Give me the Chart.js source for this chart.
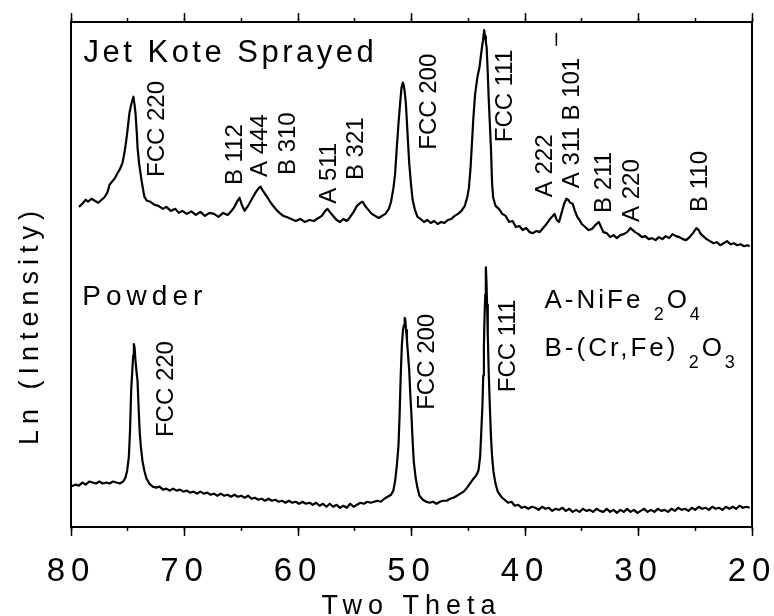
<!DOCTYPE html>
<html>
<head>
<meta charset="utf-8">
<title>XRD - Jet Kote Sprayed vs Powder</title>
<script src="https://cdn.jsdelivr.net/npm/chart.js@4.4.1/dist/chart.umd.min.js"></script>
<style>
  html, body { margin: 0; padding: 0; background: #fff; }
  #xrd { display: block; }
</style>
</head>
<body>
<canvas id="xrd" width="774" height="616"></canvas>
<script>
/**
 * Difratogramas (Two Theta x Ln(Intensity)), eixo X invertido 80 -> 20.
 * Valores: [twoTheta, lnIntensity] em unidades arbitrárias 0..10
 */
const FONT = "'Liberation Sans', Arial, Helvetica, sans-serif";

const thetaTicks = [80, 70, 60, 50, 40, 30, 20];
const thetaMinorTicks = [80, 75, 70, 65, 60, 55, 50, 45, 40, 35, 30, 25, 20];

const jetKote = [
    [79.3, 6.34], [79.0, 6.40], [78.7, 6.48], [78.5, 6.44], [78.2, 6.50], [77.9, 6.46], [77.6, 6.42],
    [77.3, 6.48], [77.05, 6.53], [76.8, 6.62], [76.6, 6.78], [76.3, 6.86], [76.1, 6.92], [75.9, 7.01],
    [75.7, 7.08], [75.46, 7.21], [75.3, 7.40], [75.15, 7.62], [75.02, 7.86], [74.85, 8.20], [74.7, 8.36],
    [74.58, 8.46], [74.5, 8.52], [74.4, 8.36], [74.32, 8.20], [74.2, 7.80], [74.14, 7.52], [74.0, 7.20],
    [73.79, 6.87], [73.6, 6.62], [73.52, 6.53], [73.3, 6.46], [73.0, 6.44], [72.64, 6.38], [72.3, 6.36],
    [71.9, 6.30], [71.6, 6.34], [71.2, 6.26], [70.8, 6.30], [70.5, 6.22], [70.2, 6.26], [69.8, 6.20],
    [69.4, 6.25], [69.0, 6.18], [68.6, 6.24], [68.2, 6.16], [67.8, 6.22], [67.4, 6.20], [67.0, 6.14],
    [66.6, 6.22], [66.2, 6.18], [65.86, 6.26], [65.6, 6.34], [65.33, 6.46], [65.15, 6.52], [64.95, 6.38],
    [64.71, 6.26], [64.4, 6.36], [64.1, 6.48], [63.8, 6.60], [63.5, 6.70], [63.3, 6.74], [63.1, 6.66],
    [62.8, 6.56], [62.51, 6.46], [62.2, 6.36], [61.9, 6.28], [61.63, 6.22], [61.3, 6.16], [61.0, 6.14],
    [60.6, 6.10], [60.2, 6.06], [59.8, 6.10], [59.4, 6.04], [59.0, 6.08], [58.6, 6.06], [58.2, 6.12],
    [57.9, 6.16], [57.6, 6.26], [57.4, 6.30], [57.2, 6.24], [56.9, 6.16], [56.6, 6.08], [56.3, 6.04],
    [56.0, 6.10], [55.7, 6.06], [55.4, 6.14], [55.1, 6.24], [54.8, 6.36], [54.5, 6.42], [54.3, 6.44],
    [54.1, 6.36], [53.8, 6.28], [53.5, 6.20], [53.2, 6.16], [52.9, 6.12], [52.6, 6.16], [52.3, 6.20],
    [52.0, 6.30], [51.8, 6.44], [51.6, 6.70], [51.45, 6.98], [51.3, 7.50], [51.15, 7.98], [51.0, 8.40],
    [50.88, 8.70], [50.76, 8.80], [50.7, 8.76], [50.6, 8.62], [50.5, 8.40], [50.35, 7.80], [50.2, 7.20],
    [50.05, 6.80], [49.9, 6.48], [49.7, 6.28], [49.47, 6.14], [49.2, 6.10], [48.9, 6.04], [48.6, 6.08],
    [48.3, 6.02], [48.0, 6.06], [47.7, 6.00], [47.4, 6.04], [47.1, 6.02], [46.8, 6.08], [46.5, 6.10],
    [46.2, 6.16], [45.9, 6.20], [45.6, 6.26], [45.3, 6.36], [45.1, 6.52], [44.95, 6.70], [44.8, 7.10],
    [44.7, 7.50], [44.55, 8.10], [44.4, 8.56], [44.2, 8.90], [44.0, 9.12], [43.85, 9.40], [43.7, 9.64],
    [43.6, 9.84], [43.52, 9.72], [43.45, 9.60], [43.38, 9.50], [43.3, 9.10], [43.2, 8.50], [43.1, 8.00],
    [43.0, 7.50], [42.9, 6.80], [42.8, 6.52], [42.6, 6.36], [42.3, 6.30], [42.0, 6.20], [41.7, 6.16],
    [41.4, 6.04], [41.1, 6.06], [40.8, 5.94], [40.5, 5.96], [40.2, 5.88], [39.9, 5.92], [39.6, 5.84],
    [39.3, 5.82], [39.0, 5.86], [38.7, 5.84], [38.4, 5.92], [38.1, 6.00], [37.8, 6.10], [37.55, 6.16],
    [37.4, 6.20], [37.2, 6.08], [37.0, 6.04], [36.8, 6.20], [36.55, 6.40], [36.35, 6.50], [36.2, 6.48],
    [36.0, 6.42], [35.8, 6.40], [35.6, 6.26], [35.4, 6.14], [35.2, 6.08], [35.0, 6.00], [34.7, 5.94],
    [34.4, 5.88], [34.1, 5.90], [33.8, 5.98], [33.5, 6.04], [33.3, 5.94], [33.1, 5.84], [32.8, 5.82],
    [32.5, 5.74], [32.2, 5.78], [31.9, 5.72], [31.6, 5.78], [31.3, 5.80], [31.0, 5.84], [30.7, 5.92],
    [30.5, 5.88], [30.3, 5.84], [30.0, 5.80], [29.7, 5.74], [29.4, 5.76], [29.1, 5.70], [28.8, 5.72],
    [28.5, 5.68], [28.2, 5.74], [27.9, 5.70], [27.6, 5.76], [27.3, 5.72], [27.0, 5.80], [26.7, 5.76],
    [26.4, 5.74], [26.1, 5.70], [25.8, 5.68], [25.5, 5.74], [25.2, 5.82], [24.9, 5.92], [24.7, 5.88],
    [24.5, 5.80], [24.2, 5.74], [24.0, 5.70], [23.7, 5.66], [23.4, 5.62], [23.1, 5.64], [22.8, 5.58],
    [22.5, 5.62], [22.2, 5.66], [21.9, 5.60], [21.6, 5.62], [21.3, 5.58], [21.0, 5.60], [20.7, 5.56],
    [20.4, 5.58], [20.2, 5.56]
];

const powder = [
    [80.0, 0.80], [79.6, 0.84], [79.3, 0.82], [79.0, 0.88], [78.7, 0.84], [78.4, 0.90], [78.1, 0.88],
    [77.8, 0.86], [77.5, 0.90], [77.2, 0.86], [76.9, 0.88], [76.6, 0.86], [76.3, 0.90], [76.0, 0.88],
    [75.7, 0.86], [75.4, 0.90], [75.2, 0.98], [75.05, 1.12], [74.9, 1.40], [74.8, 1.90], [74.7, 2.70],
    [74.6, 3.10], [74.52, 3.40], [74.46, 3.62], [74.4, 3.56], [74.32, 3.30], [74.24, 3.10], [74.14, 2.90],
    [74.05, 2.40], [73.95, 1.90], [73.85, 1.60], [73.7, 1.30], [73.52, 1.10], [73.35, 0.96], [73.1, 0.86],
    [72.8, 0.80], [72.5, 0.78], [72.2, 0.80], [71.9, 0.74], [71.6, 0.76], [71.3, 0.72], [71.0, 0.76],
    [70.7, 0.72], [70.4, 0.74], [70.1, 0.70], [69.8, 0.72], [69.5, 0.68], [69.2, 0.70], [68.9, 0.66],
    [68.6, 0.70], [68.3, 0.66], [68.0, 0.68], [67.7, 0.64], [67.4, 0.66], [67.1, 0.62], [66.8, 0.66],
    [66.5, 0.62], [66.2, 0.64], [65.9, 0.60], [65.6, 0.64], [65.3, 0.60], [65.0, 0.62], [64.7, 0.58],
    [64.4, 0.62], [64.1, 0.56], [63.8, 0.58], [63.5, 0.54], [63.2, 0.56], [62.9, 0.52], [62.6, 0.56],
    [62.3, 0.52], [62.0, 0.54], [61.7, 0.50], [61.4, 0.52], [61.1, 0.48], [60.8, 0.52], [60.5, 0.48],
    [60.2, 0.50], [59.9, 0.46], [59.6, 0.50], [59.3, 0.46], [59.0, 0.48], [58.7, 0.44], [58.4, 0.48],
    [58.1, 0.42], [57.8, 0.46], [57.5, 0.40], [57.2, 0.46], [56.9, 0.40], [56.6, 0.44], [56.3, 0.38],
    [56.0, 0.42], [55.7, 0.38], [55.4, 0.46], [55.1, 0.40], [54.8, 0.44], [54.5, 0.48], [54.2, 0.46],
    [53.9, 0.50], [53.6, 0.48], [53.3, 0.50], [53.0, 0.52], [52.7, 0.50], [52.4, 0.56], [52.1, 0.60],
    [51.8, 0.64], [51.6, 0.72], [51.45, 0.90], [51.3, 1.20], [51.15, 1.60], [51.05, 2.20], [50.95, 3.00],
    [50.85, 3.60], [50.75, 3.90], [50.66, 4.00], [50.6, 4.14], [50.54, 4.10], [50.48, 3.90], [50.4, 3.70],
    [50.3, 3.40], [50.2, 3.10], [50.1, 2.60], [50.0, 2.20], [49.9, 1.70], [49.8, 1.30], [49.65, 1.00],
    [49.5, 0.80], [49.3, 0.62], [49.0, 0.54], [48.7, 0.50], [48.4, 0.48], [48.1, 0.50], [47.8, 0.46],
    [47.5, 0.50], [47.2, 0.52], [46.9, 0.52], [46.6, 0.56], [46.3, 0.58], [46.0, 0.62], [45.7, 0.66],
    [45.4, 0.70], [45.1, 0.78], [44.85, 0.86], [44.6, 0.94], [44.3, 1.02], [44.1, 1.12], [43.95, 1.40],
    [43.85, 1.90], [43.75, 2.40], [43.68, 3.00], [43.62, 3.60], [43.56, 4.20], [43.5, 4.60], [43.45, 5.14],
    [43.4, 4.90], [43.34, 4.40], [43.28, 3.80], [43.2, 3.10], [43.1, 2.40], [43.0, 1.80], [42.9, 1.40],
    [42.78, 1.10], [42.6, 0.86], [42.4, 0.70], [42.1, 0.60], [41.8, 0.54], [41.5, 0.48], [41.2, 0.50],
    [40.9, 0.42], [40.6, 0.44], [40.3, 0.38], [40.0, 0.40], [39.7, 0.36], [39.4, 0.40], [39.1, 0.38],
    [38.8, 0.34], [38.5, 0.40], [38.2, 0.36], [37.9, 0.38], [37.6, 0.32], [37.3, 0.36], [37.0, 0.34],
    [36.7, 0.38], [36.4, 0.32], [36.1, 0.36], [35.8, 0.30], [35.5, 0.34], [35.2, 0.30], [34.9, 0.36],
    [34.6, 0.32], [34.3, 0.34], [34.0, 0.30], [33.7, 0.36], [33.4, 0.32], [33.1, 0.30], [32.8, 0.36],
    [32.5, 0.30], [32.2, 0.34], [31.9, 0.28], [31.6, 0.34], [31.3, 0.30], [31.0, 0.36], [30.7, 0.30],
    [30.4, 0.34], [30.1, 0.28], [29.8, 0.32], [29.5, 0.36], [29.2, 0.30], [28.9, 0.34], [28.6, 0.30],
    [28.3, 0.36], [28.0, 0.32], [27.7, 0.34], [27.4, 0.30], [27.1, 0.36], [26.8, 0.32], [26.5, 0.38],
    [26.2, 0.34], [25.9, 0.36], [25.6, 0.32], [25.3, 0.38], [25.0, 0.34], [24.7, 0.40], [24.4, 0.36],
    [24.1, 0.38], [23.8, 0.34], [23.5, 0.40], [23.2, 0.36], [22.9, 0.38], [22.6, 0.34], [22.3, 0.40],
    [22.0, 0.36], [21.7, 0.40], [21.4, 0.36], [21.1, 0.42], [20.8, 0.38], [20.5, 0.40], [20.2, 0.38]
];

// Identificação dos picos (texto vertical): posição inicial do texto em [twoTheta, lnIntensity]
const peakLabels = [
    { text: 'FCC 220', theta: 72.38, lnI: 6.93 },
    { text: 'B 112', theta: 65.51, lnI: 6.77 },
    { text: 'A 444', theta: 63.30, lnI: 6.93 },
    { text: 'B 310', theta: 60.84, lnI: 6.97 },
    { text: 'A 511', theta: 57.22, lnI: 6.40 },
    { text: 'B 321', theta: 54.85, lnI: 6.87 },
    { text: 'FCC 200', theta: 48.42, lnI: 7.47 },
    { text: 'FCC 111', theta: 41.72, lnI: 7.62 },
    { text: 'A 222', theta: 38.19, lnI: 6.53 },
    { text: 'A 311 B 101', theta: 35.81, lnI: 6.71, overbar: true },
    { text: 'B 211', theta: 33.00, lnI: 6.22 },
    { text: 'A 220', theta: 30.53, lnI: 6.04 },
    { text: 'B 110', theta: 24.54, lnI: 6.24 },
    { text: 'FCC 220', theta: 71.59, lnI: 1.78 },
    { text: 'FCC 200', theta: 48.59, lnI: 2.32 },
    { text: 'FCC 111', theta: 41.45, lnI: 2.67 }
];

// Títulos das curvas
const seriesTitles = [
    { theta: 78.9, lnI: 9.21, size: 31, spacing: 3.5 },
    { theta: 79.0, lnI: 4.40, size: 28, spacing: 5 }
];

// Legenda das fases (com subscritos)
const phaseLegend = [
    { theta: 38.28, lnI: 4.34, parts: [['A-NiFe ', false], ['2', true], ['O', false], ['4', true]] },
    { theta: 38.28, lnI: 3.39, parts: [['B-(Cr,Fe) ', false], ['2', true], ['O', false], ['3', true]] }
];

/**
 * Plugin de anotações: textos dos picos, títulos e legenda das fases
 */
const annotationsPlugin = {
    id: 'xrdAnnotations',
    beforeDraw(chart) {
        // espaçamento entre letras dos rótulos dos eixos
        chart.ctx.letterSpacing = '6px';
    },
    afterDraw(chart) {
        const { ctx, chartArea, scales: { x, y } } = chart;
        ctx.save();
        ctx.fillStyle = '#000';

        // rótulos verticais dos picos
        ctx.letterSpacing = '0px';
        ctx.font = `24px ${FONT}`;
        ctx.textAlign = 'left';
        ctx.textBaseline = 'middle';
        peakLabels.forEach(p => {
            ctx.save();
            ctx.translate(x.getPixelForValue(p.theta), y.getPixelForValue(p.lnI));
            ctx.rotate(-Math.PI / 2);
            ctx.fillText(p.text, 0, 0);
            if (p.overbar) {
                const w = ctx.measureText(p.text).width;
                ctx.fillRect(w + 12, -17, 13, 1.6);
            }
            ctx.restore();
        });

        // títulos das curvas
        ctx.textBaseline = 'alphabetic';
        seriesTitles.forEach((t, i) => {
            ctx.font = `${t.size}px ${FONT}`;
            ctx.letterSpacing = `${t.spacing}px`;
            ctx.fillText(chart.data.datasets[i].label, x.getPixelForValue(t.theta), y.getPixelForValue(t.lnI));
        });

        // legenda A / B
        ctx.letterSpacing = '3px';
        phaseLegend.forEach(row => {
            let px = x.getPixelForValue(row.theta);
            const py = y.getPixelForValue(row.lnI);
            row.parts.forEach(([txt, sub]) => {
                ctx.font = sub ? `18px ${FONT}` : `26px ${FONT}`;
                ctx.fillText(txt, px, sub ? py + 12 : py);
                px += ctx.measureText(txt).width;
            });
        });

        // título do eixo Y
        ctx.font = `27px ${FONT}`;
        ctx.letterSpacing = '6px';
        ctx.textAlign = 'center';
        ctx.textBaseline = 'middle';
        ctx.translate(chartArea.left - 40, y.getPixelForValue(4.0));
        ctx.rotate(-Math.PI / 2);
        ctx.fillText('Ln (Intensity)', 0, 0);
        ctx.restore();
    }
};

const toPoints = rows => rows.map(([t, v]) => ({ x: t, y: v }));

const frame = { display: true, color: '#000', width: 2 };
const thetaAxis = (position, tickValues, tickLength, extra) => Object.assign({
    type: 'linear',
    position,
    min: 20,
    max: 80,
    reverse: true,
    afterBuildTicks: scale => { scale.ticks = tickValues.map(v => ({ value: v })); },
    grid: { drawOnChartArea: false, tickLength, tickWidth: 1.5, tickColor: '#000' },
    ticks: { display: false },
    border: { display: false }
}, extra);

// altura fixa da caixa do eixo, sem reservar espaço lateral para os rótulos
const fixHeight = h => s => { s.height = h; s.paddingLeft = 0; s.paddingRight = 0; };

Chart.defaults.font.family = FONT;
Chart.defaults.color = '#000';

new Chart(document.getElementById('xrd'), {
    type: 'line',
    data: {
        datasets: [
            {
                label: 'Jet Kote Sprayed',
                data: toPoints(jetKote),
                borderColor: '#000',
                borderWidth: 2.2,
                borderJoinStyle: 'round',
                pointRadius: 0,
                tension: 0,
                fill: false
            },
            {
                label: 'Powder',
                data: toPoints(powder),
                borderColor: '#000',
                borderWidth: 2.2,
                borderJoinStyle: 'round',
                pointRadius: 0,
                tension: 0,
                fill: false
            }
        ]
    },
    options: {
        responsive: false,
        animation: false,
        devicePixelRatio: 1,
        layout: { padding: { top: 22, right: 22, left: 0, bottom: 0 } },
        plugins: { legend: { display: false }, tooltip: { enabled: false } },
        scales: {
            x: thetaAxis('bottom', thetaTicks, 9, {
                weight: 1,
                border: frame,
                ticks: {
                    display: true,
                    color: '#000',
                    padding: 16,
                    maxRotation: 0,
                    autoSkip: false,
                    font: { size: 33 },
                    callback: v => String(v)
                },
                title: {
                    display: true,
                    text: 'Two Theta',
                    color: '#000',
                    font: { size: 27, lineHeight: 1 },
                    padding: { top: 0, bottom: -4 }
                },
                afterFit: fixHeight(89)
            }),
            xMinor: thetaAxis('bottom', thetaMinorTicks, 4, {
                weight: 0,
                afterFit: fixHeight(0)
            }),
            xTop: thetaAxis('top', thetaTicks, 9, {
                border: frame,
                afterFit: fixHeight(0)
            }),
            xTopMinor: thetaAxis('top', thetaMinorTicks, 4, {
                afterFit: fixHeight(0)
            }),
            y: {
                type: 'linear',
                position: 'left',
                min: 0,
                max: 10,
                ticks: { display: false },
                grid: { display: false, drawTicks: false },
                border: frame,
                afterFit: s => { s.width = 71; }
            },
            yRight: {
                type: 'linear',
                position: 'right',
                min: 0,
                max: 10,
                ticks: { display: false },
                grid: { display: false, drawTicks: false },
                border: frame,
                afterFit: s => { s.width = 0; }
            }
        }
    },
    plugins: [annotationsPlugin]
});
</script>
</body>
</html>
